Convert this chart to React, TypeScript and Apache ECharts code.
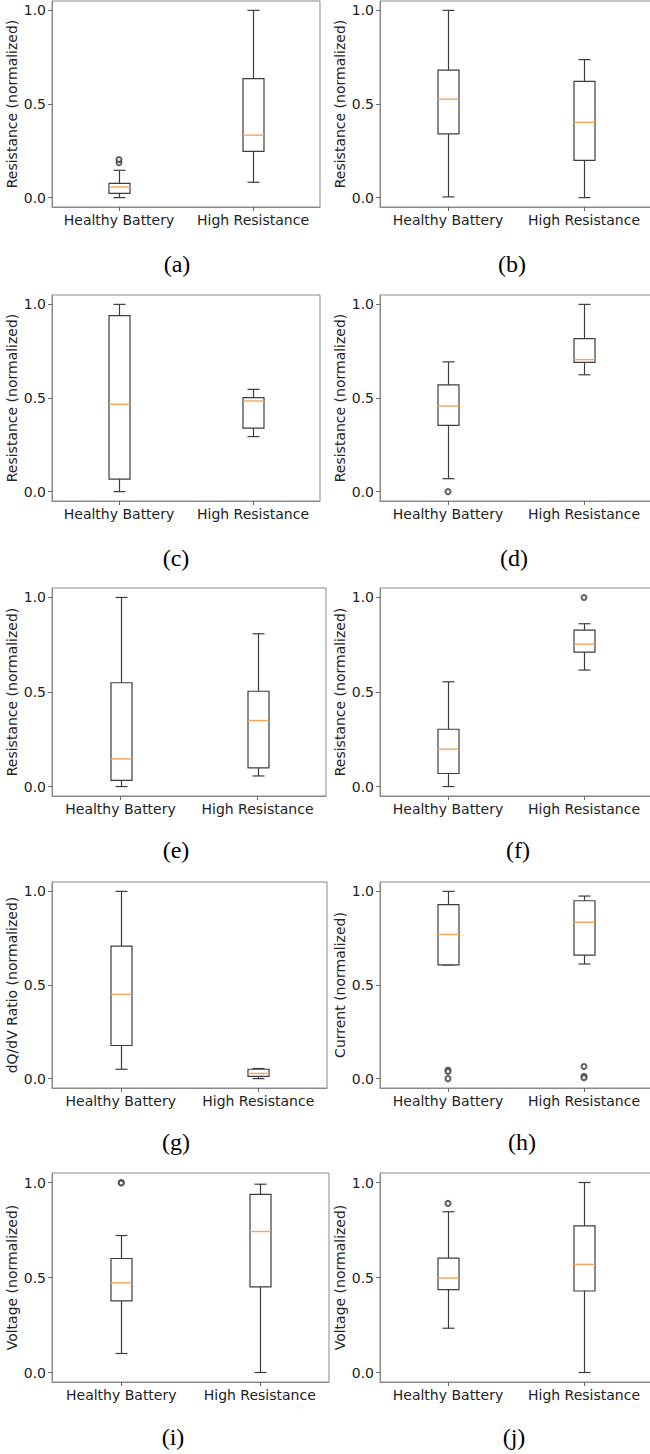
import React, { useEffect, useRef } from "react";
import * as echarts from "echarts";

// ---------- data ----------
const categories = ["Healthy Battery", "High Resistance"];
const yTicks = [0, 0.5, 1.0];
const panelLabels = ["(a)", "(b)", "(c)", "(d)", "(e)", "(f)", "(g)", "(h)", "(i)", "(j)"];
const yTitles = [
  "Resistance (normalized)",
  "Resistance (normalized)",
  "Resistance (normalized)",
  "Resistance (normalized)",
  "Resistance (normalized)",
  "Resistance (normalized)",
  "dQ/dV Ratio (normalized)",
  "Current (normalized)",
  "Voltage (normalized)",
  "Voltage (normalized)",
];

// [whiskerLow, Q1, median, Q3, whiskerHigh] per category
const statsA = [[0.0, 0.023, 0.057, 0.076, 0.146], [0.082, 0.247, 0.334, 0.636, 1.0]];
const statsB = [[0.004, 0.34, 0.526, 0.681, 1.0], [0.0, 0.199, 0.402, 0.621, 0.737]];
const statsC = [[0.0, 0.067, 0.466, 0.94, 1.0], [0.294, 0.339, 0.484, 0.502, 0.546]];
const statsD = [[0.069, 0.354, 0.457, 0.57, 0.693], [0.624, 0.69, 0.705, 0.817, 1.0]];
const statsE = [[0.0, 0.033, 0.146, 0.549, 1.0], [0.056, 0.099, 0.349, 0.504, 0.808]];
const statsF = [[0.0, 0.069, 0.198, 0.303, 0.554], [0.616, 0.711, 0.753, 0.827, 0.861]];
const statsG = [[0.05, 0.177, 0.45, 0.708, 1.0], [0.0, 0.012, 0.028, 0.05, 0.054]];
const statsH = [[0.607, 0.607, 0.77, 0.929, 1.0], [0.612, 0.66, 0.835, 0.95, 0.975]];
const statsI = [[0.1, 0.377, 0.472, 0.6, 0.721], [0.0, 0.451, 0.742, 0.937, 0.991]];
const statsJ = [[0.233, 0.436, 0.497, 0.602, 0.846], [0.0, 0.429, 0.569, 0.772, 1.0]];

// outliers per category
const outliersA = [[0.187, 0.204], []];
const outliersB = [[], []];
const outliersC = [[], []];
const outliersD = [[0.0], []];
const outliersE = [[], []];
const outliersF = [[], [1.0]];
const outliersG = [[], []];
const outliersH = [[0.046, 0.038, 0.0], [0.065, 0.012, 0.005]];
const outliersI = [[1.0, 0.997], []];
const outliersJ = [[0.89], []];

const allStats = [statsA, statsB, statsC, statsD, statsE, statsF, statsG, statsH, statsI, statsJ];
const allOutliers = [outliersA, outliersB, outliersC, outliersD, outliersE, outliersF, outliersG, outliersH, outliersI, outliersJ];

// ---------- layout ----------
const rowFrames = [
  [1, 207],
  [295, 501],
  [588, 796],
  [882, 1088],
  [1173, 1382],
];
const leftRights = [320, 320, 326, 327, 329];
const captionY = [264, 558, 850, 1142, 1437];
const captionXLeft = [177, 176, 176, 176, 173];
const captionXRight = [512, 514, 518, 522, 514];

const LINE = "#3c3c3c";
const FRAME = "#8a8a8a";
const MEDIAN = "#f6a45a";
const TEXT = "#222";
const FONT = "DejaVu Sans";

function buildOption() {
  const grids: any[] = [];
  const xAxes: any[] = [];
  const yAxes: any[] = [];
  const series: any[] = [];
  const graphics: any[] = [];

  for (let p = 0; p < 10; p++) {
    const row = Math.floor(p / 2);
    const col = p % 2;
    const [top, bottom] = rowFrames[row];
    const left = col === 0 ? 52 : 380;
    const right = col === 0 ? leftRights[row] : 652;
    grids.push({
      left,
      top,
      width: right - left,
      height: bottom - top,
      show: true,
      borderColor: FRAME,
      borderWidth: 1,
      backgroundColor: "transparent",
    });
    xAxes.push({
      type: "category",
      gridIndex: p,
      data: categories,
      boundaryGap: true,
      position: "bottom",
      axisLine: { show: true, onZero: false, lineStyle: { color: FRAME, width: 1 } },
      axisTick: { show: true, alignWithLabel: true, length: 4, lineStyle: { color: "#666" } },
      axisLabel: { show: true, interval: 0, margin: 6, fontSize: 14, color: TEXT, fontFamily: FONT },
      splitLine: { show: false },
    });
    yAxes.push({
      type: "value",
      gridIndex: p,
      min: -0.05,
      max: 1.05,
      position: "left",
      name: yTitles[p],
      nameLocation: "middle",
      nameGap: 33,
      nameTextStyle: { fontSize: 14, color: TEXT, fontFamily: FONT },
      axisLine: { show: true, onZero: false, lineStyle: { color: FRAME, width: 1 } },
      axisTick: { show: true, length: 4, customValues: yTicks, lineStyle: { color: "#666" } },
      axisLabel: {
        show: true,
        customValues: yTicks,
        formatter: (v: number) => v.toFixed(1),
        margin: 6,
        fontSize: 14,
        color: TEXT,
        fontFamily: FONT,
      },
      splitLine: { show: false },
    });

    const boxData = allStats[p].map((s, i) => [i, ...s]);
    series.push({
      type: "custom",
      xAxisIndex: p,
      yAxisIndex: p,
      encode: { x: 0, y: [1, 2, 3, 4, 5] },
      data: boxData,
      renderItem: (params: any, api: any) => {
        const c = api.value(0);
        const lo = api.coord([c, api.value(1)]);
        const q1 = api.coord([c, api.value(2)]);
        const md = api.coord([c, api.value(3)]);
        const q3 = api.coord([c, api.value(4)]);
        const hi = api.coord([c, api.value(5)]);
        const x = Math.round(lo[0]) + 0.5;
        const bw = 10.5;
        const cw = 6;
        const st = { stroke: LINE, lineWidth: 1.2, fill: "none" };
        return {
          type: "group",
          children: [
            { type: "line", shape: { x1: x, y1: q1[1], x2: x, y2: lo[1] }, style: st },
            { type: "line", shape: { x1: x, y1: q3[1], x2: x, y2: hi[1] }, style: st },
            { type: "line", shape: { x1: x - cw, y1: lo[1], x2: x + cw, y2: lo[1] }, style: st },
            { type: "line", shape: { x1: x - cw, y1: hi[1], x2: x + cw, y2: hi[1] }, style: st },
            {
              type: "rect",
              shape: { x: x - bw, y: q3[1], width: bw * 2, height: q1[1] - q3[1] },
              style: { stroke: LINE, lineWidth: 1.2, fill: "#fff" },
            },
            {
              type: "line",
              shape: { x1: x - bw, y1: md[1], x2: x + bw, y2: md[1] },
              style: { stroke: MEDIAN, lineWidth: 1.4 },
            },
          ],
        };
      },
      z: 2,
    });

    const outPts: number[][] = [];
    allOutliers[p].forEach((arr, i) => arr.forEach((v) => outPts.push([i, v])));
    series.push({
      type: "scatter",
      xAxisIndex: p,
      yAxisIndex: p,
      data: outPts,
      symbol: "emptyCircle",
      symbolSize: 5,
      itemStyle: { color: LINE, borderColor: LINE, borderWidth: 1 },
      z: 3,
    });

    graphics.push({
      type: "text",
      x: col === 0 ? captionXLeft[row] : captionXRight[row],
      y: captionY[row],
      style: {
        text: panelLabels[p],
        fontFamily: "Liberation Serif",
        fontSize: 24,
        fill: "#000",
        textAlign: "center",
        textVerticalAlign: "middle",
      },
    });
  }

  return {
    animation: false,
    backgroundColor: "#fff",
    textStyle: { fontFamily: FONT },
    grid: grids,
    xAxis: xAxes,
    yAxis: yAxes,
    series,
    graphic: graphics,
  };
}

export default function App() {
  const ref = useRef<HTMLDivElement>(null);
  useEffect(() => {
    if (!ref.current) return;
    const chart = echarts.init(ref.current, undefined, { renderer: "svg" });
    chart.setOption(buildOption() as any);
    return () => chart.dispose();
  }, []);
  return (
    <div style={{ position: "absolute", left: 0, top: 0, width: 650, height: 1454, overflow: "hidden", background: "#fff" }}>
      <div ref={ref} style={{ width: 660, height: 1454 }} />
    </div>
  );
}
